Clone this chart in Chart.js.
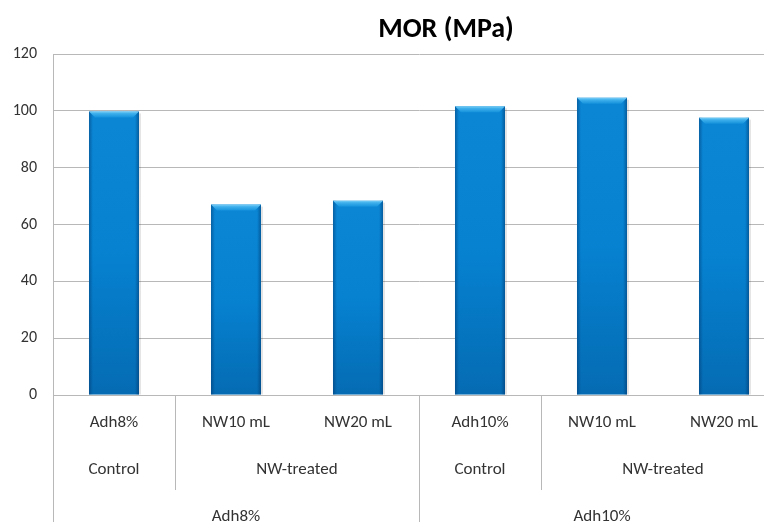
<!DOCTYPE html>
<html>
<head>
<meta charset="utf-8">
<title>MOR (MPa)</title>
<script src="https://cdn.jsdelivr.net/npm/chart.js@4.4.1/dist/chart.umd.min.js"></script>
<style>
  html, body { margin: 0; padding: 0; background: #ffffff; overflow: hidden; width: 764px; height: 528px; }
  #wrap { position: relative; width: 790px; height: 528px; }
</style>
</head>
<body>
<div id="wrap"><canvas id="chart" width="790" height="528"></canvas></div>
<script>
// Modulus of rupture per board type
const categories = ['Adh8%', 'NW10 mL', 'NW20 mL', 'Adh10%', 'NW10 mL', 'NW20 mL'];
const treatmentLabels = ['Control', 'NW-treated', 'Control', 'NW-treated'];
const treatmentSpans = [1, 2, 1, 2];
const adhesiveLabels = ['Adh8%', 'Adh10%'];
const adhesiveSpans = [3, 3];
const morValues = [99.8, 67.0, 68.4, 101.6, 104.6, 97.6];
const yTickValues = [0, 20, 40, 60, 80, 100, 120];

const FONT = 'Carlito, "Liberation Sans Narrow", "DejaVu Sans Condensed", Lato, sans-serif';
const LINE = '#b8b8b8';
const TEXT = '#333333';

// Title centred over the whole chart block
const titlePlugin = {
  id: 'mainTitle',
  afterDraw(chart) {
    const ctx = chart.ctx;
    ctx.save();
    ctx.font = 'bold 28px ' + FONT;
    ctx.fillStyle = '#000000';
    ctx.textAlign = 'center';
    ctx.textBaseline = 'middle';
    ctx.fillText('MOR (MPa)', 446, 30);
    ctx.restore();
  }
};

// Shading and bevel on each column
const bevelPlugin = {
  id: 'bevel',
  afterDatasetsDraw(chart) {
    const ctx = chart.ctx;
    const meta = chart.getDatasetMeta(0);
    ctx.save();
    meta.data.forEach(el => {
      const p = el.getProps(['x', 'y', 'base', 'width'], true);
      const l = p.x - p.width / 2, r = p.x + p.width / 2, t = p.y, b = p.base;
      const h = b - t;
      // vertical body shading
      let g = ctx.createLinearGradient(0, t, 0, b);
      g.addColorStop(0, 'rgba(255,255,255,0.02)');
      g.addColorStop(0.5, 'rgba(0,20,60,0.02)');
      g.addColorStop(1, 'rgba(0,20,60,0.22)');
      ctx.fillStyle = g;
      ctx.fillRect(l, t, p.width, h);
      // side edges
      const e = 4;
      g = ctx.createLinearGradient(l, 0, l + e, 0);
      g.addColorStop(0, 'rgba(0,40,90,0.40)');
      g.addColorStop(1, 'rgba(0,40,90,0)');
      ctx.fillStyle = g;
      ctx.fillRect(l, t, e, h);
      g = ctx.createLinearGradient(r - e, 0, r, 0);
      g.addColorStop(0, 'rgba(0,40,90,0)');
      g.addColorStop(1, 'rgba(0,40,90,0.45)');
      ctx.fillStyle = g;
      ctx.fillRect(r - e, t, e, h);
      // soft shadow to the right
      ctx.fillStyle = 'rgba(0,0,0,0.10)';
      ctx.fillRect(r, t + 2, 2, h - 2);
      // top bevel
      const bv = 6;
      g = ctx.createLinearGradient(0, t, 0, t + bv);
      g.addColorStop(0, '#7fd0f6');
      g.addColorStop(0.35, '#3fb0ec');
      g.addColorStop(1, '#1592dc');
      ctx.fillStyle = g;
      ctx.beginPath();
      ctx.moveTo(l, t);
      ctx.lineTo(r, t);
      ctx.lineTo(r - bv, t + bv);
      ctx.lineTo(l + bv, t + bv);
      ctx.closePath();
      ctx.fill();
    });
    ctx.restore();
  }
};

// Second and third category rows with their dividers
const groupAxisPlugin = {
  id: 'groupAxis',
  afterDraw(chart) {
    const x = chart.scales.x;
    const ctx = chart.ctx;
    const top = x.top;
    const edge = i => x.getPixelForValue(i - 0.5);
    ctx.save();
    ctx.strokeStyle = LINE;
    ctx.lineWidth = 1;
    ctx.fillStyle = TEXT;
    ctx.font = '17px ' + FONT;
    ctx.textAlign = 'center';
    ctx.textBaseline = 'middle';

    // treatment row
    let i = 0;
    treatmentLabels.forEach((lab, k) => {
      const a = edge(i), b = edge(i + treatmentSpans[k]);
      ctx.fillText(lab, (a + b) / 2, 470);
      ctx.beginPath();
      ctx.moveTo(Math.round(a) + 0.5, top);
      ctx.lineTo(Math.round(a) + 0.5, 490);
      ctx.stroke();
      i += treatmentSpans[k];
    });

    // adhesive row
    i = 0;
    adhesiveLabels.forEach((lab, k) => {
      const a = edge(i), b = edge(i + adhesiveSpans[k]);
      ctx.fillText(lab, (a + b) / 2, 517);
      ctx.beginPath();
      ctx.moveTo(Math.round(a) + 0.5, top);
      ctx.lineTo(Math.round(a) + 0.5, 522);
      ctx.stroke();
      i += adhesiveSpans[k];
    });
    const endX = Math.round(edge(i)) + 0.5;
    ctx.beginPath();
    ctx.moveTo(endX, top);
    ctx.lineTo(endX, 522);
    ctx.stroke();
    ctx.restore();
  }
};

new Chart(document.getElementById('chart'), {
  type: 'bar',
  data: {
    labels: categories,
    datasets: [{
      label: 'MOR (MPa)',
      data: morValues,
      backgroundColor: '#0684d4',
      borderWidth: 0,
      categoryPercentage: 1.0,
      barPercentage: 0.41
    }]
  },
  options: {
    responsive: false,
    animation: false,
    events: [],
    layout: { padding: { top: 54, right: 5, left: 0, bottom: 0 } },
    plugins: {
      legend: { display: false },
      title: { display: false },
      tooltip: { enabled: false }
    },
    scales: {
      x: {
        offset: true,
        grid: { display: false, drawTicks: false },
        border: { display: false },
        ticks: {
          color: TEXT,
          font: { family: FONT, size: 17 },
          padding: 18,
          maxRotation: 0,
          autoSkip: false
        },
        afterFit(scale) { scale.height = 133; }
      },
      y: {
        min: 0,
        max: 120,
        afterBuildTicks(scale) { scale.ticks = yTickValues.map(v => ({ value: v })); },
        grid: { color: LINE, lineWidth: 1, drawTicks: false },
        border: { display: true, color: LINE, width: 1 },
        ticks: {
          color: TEXT,
          font: { family: FONT, size: 16 },
          padding: 16
        },
        afterFit(scale) { scale.width = 53; }
      }
    }
  },
  plugins: [bevelPlugin, groupAxisPlugin, titlePlugin]
});
</script>
</body>
</html>
